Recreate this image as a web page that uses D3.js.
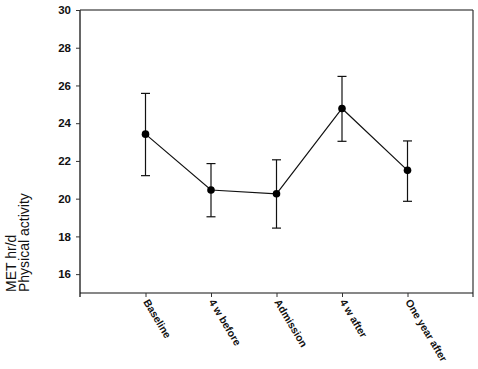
<!DOCTYPE html>
<html><head><meta charset="utf-8">
<script src="https://cdn.jsdelivr.net/npm/d3@7"></script>
<style>body{margin:0;background:#fff}svg{display:block}</style>
</head><body><svg width="478" height="369"></svg>
<script>
const categories = ["Baseline", "4 w before", "Admission", "4 w after", "One year after"];
const means = [23.42, 20.46, 20.26, 24.78, 21.5];
const upper = [25.58, 21.86, 22.06, 26.48, 23.06];
const lower = [21.22, 19.04, 18.44, 23.04, 19.86];
const yTicks = [16, 18, 20, 22, 24, 26, 28, 30];
const yTitle = ["MET hr/d", "Physical activity"];

const svg = d3.select("svg");
const L = 80, R = 473, T = 10, B = 293;
const x = d3.scaleLinear().domain([0, categories.length + 1]).range([L, R]);
const y = d3.scaleLinear().domain([15, 30]).range([B, T]);
const font = "Liberation Sans, Arial, sans-serif";

// frame top and right
svg.append("line").attr("x1", L).attr("x2", R).attr("y1", T).attr("y2", T).attr("stroke", "#111").attr("stroke-width", 1.2);
svg.append("line").attr("x1", R).attr("x2", R).attr("y1", T).attr("y2", B + 4).attr("stroke", "#333").attr("stroke-width", 1.2);

// y axis
const ya = svg.append("g").attr("transform", `translate(${L},0)`)
  .call(d3.axisLeft(y).tickValues(yTicks).tickSize(4).tickPadding(5).tickFormat(d3.format("d")));
ya.select(".domain").attr("d", `M0,${T}V${B + 4}`).attr("stroke", "#333").attr("stroke-width", 1.5);
ya.selectAll(".tick line").attr("stroke", "#333");
ya.selectAll("text").attr("font-family", font).attr("font-weight", "bold").attr("font-size", 11.5).attr("fill", "#111");

// x axis
const xa = svg.append("g").attr("transform", `translate(0,${B})`)
  .call(d3.axisBottom(x).tickValues(d3.range(1, categories.length + 1)).tickSize(4)
    .tickFormat(i => categories[i - 1]));
xa.select(".domain").attr("d", `M${L},0H${R}`).attr("stroke", "#111").attr("stroke-width", 1.2);
xa.selectAll(".tick line").attr("stroke", "#333");
xa.selectAll("text")
  .attr("font-family", font).attr("font-weight", "bold").attr("font-size", 10.5).attr("fill", "#111")
  .attr("text-anchor", "start").attr("dy", null)
  .attr("transform", "translate(-3,9) rotate(59)").attr("x", 0).attr("y", 0);

// y title
const tt = svg.append("text").attr("transform", `translate(0,292) rotate(-90)`)
  .attr("font-family", font).attr("font-size", 14).attr("fill", "#111");
tt.append("tspan").attr("x", 0).attr("y", 16).text(yTitle[0]);
tt.append("tspan").attr("x", 0).attr("y", 29).text(yTitle[1]);

// line
const idx = d3.range(categories.length);
svg.append("path").datum(idx)
  .attr("d", d3.line().x(i => x(i + 1)).y(i => y(means[i])))
  .attr("fill", "none").attr("stroke", "#111").attr("stroke-width", 1.2);

// error bars
const eb = svg.append("g").attr("stroke", "#111").attr("stroke-width", 1.2);
idx.forEach(i => {
  const cx = x(i + 1);
  eb.append("line").attr("x1", cx).attr("x2", cx).attr("y1", y(upper[i])).attr("y2", y(lower[i]));
  eb.append("line").attr("x1", cx - 4.5).attr("x2", cx + 4.5).attr("y1", y(upper[i])).attr("y2", y(upper[i]));
  eb.append("line").attr("x1", cx - 4.5).attr("x2", cx + 4.5).attr("y1", y(lower[i])).attr("y2", y(lower[i]));
});

// points
svg.append("g").selectAll("circle").data(idx).join("circle")
  .attr("cx", i => x(i + 1)).attr("cy", i => y(means[i])).attr("r", 3.8).attr("fill", "#000");
</script></body></html>
